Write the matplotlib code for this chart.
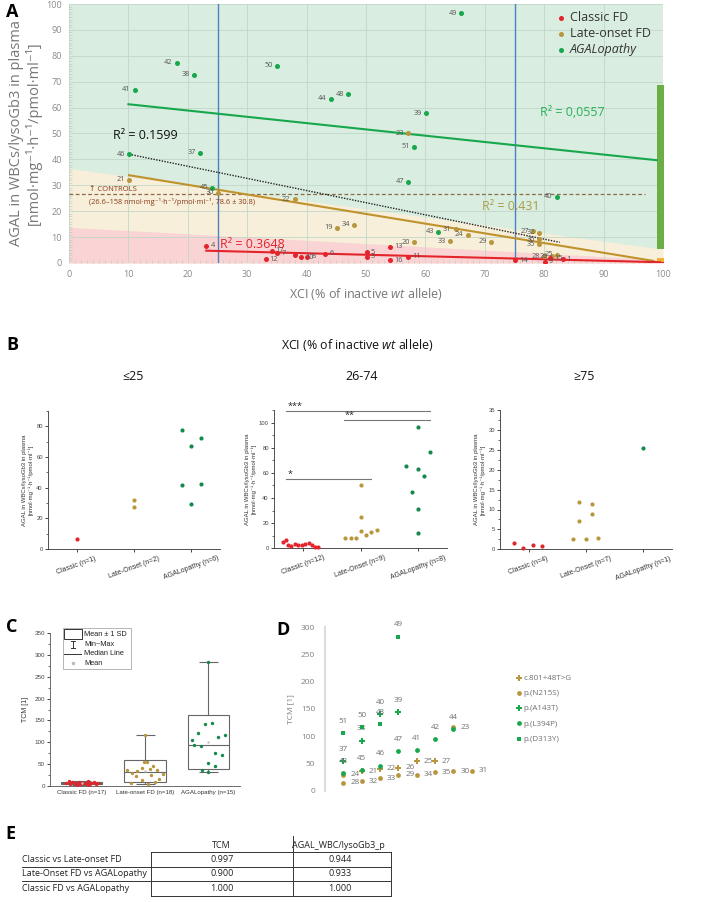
import numpy as np
import matplotlib
matplotlib.use('Agg')
import matplotlib.pyplot as plt
from matplotlib.lines import Line2D
from matplotlib.patches import Rectangle

plt.rcParams['font.family'] = ['Open Sans', 'DejaVu Sans']
plt.rcParams['mathtext.fontset'] = 'custom'
plt.rcParams['mathtext.rm'] = 'Open Sans'
plt.rcParams['mathtext.it'] = 'Open Sans:italic'
ARIAL = ['Liberation Sans', 'DejaVu Sans']

W, H = 709, 902

RED = '#e3242b'
GOLD = '#b8963e'
GREEN = '#17a74c'
DKGREEN = '#138a4b'
GRAY = '#6e6e6e'

# ---------------- A: AGAL ratio vs XCI ----------------
cl_xci = [23.1, 34.1, 33.1, 35.1, 38.1, 39.1, 40.1, 43.1, 50.1, 50.1, 54.0, 54.0, 57.1, 75.1, 80.1, 81.0, 83.1]
cl_agal = [6.7, 4.8, 1.4, 3.7, 3.0, 2.2, 2.4, 3.5, 4.2, 2.4, 6.3, 1.0, 2.4, 1.0, 0.5, 1.8, 1.5]
cl_id = ['4', '17', '12', '7', '', '10', '8', '6', '5', '3', '13', '16', '11', '14', '9', '15', '1']

lo_xci = [57.1, 10.1, 25.1, 38.0, 45.1, 48.0, 58.1, 65.1, 67.1, 64.1, 71.1, 78.1, 79.1, 79.1, 79.1, 80.0, 81.3, 82.1]
lo_agal = [50.1, 32.2, 27.2, 24.7, 13.6, 14.8, 8.0, 13.0, 10.9, 8.4, 8.2, 12.2, 11.7, 9.1, 7.2, 2.6, 2.7, 3.1]
lo_id = ['23', '21', '30', '22', '19', '34', '20', '31', '24', '33', '29', '27', '32', '36', '35', '28', '26', '25']

ag_xci = [66.0, 18.1, 21.0, 11.1, 35.0, 44.1, 47.0, 60.1, 58.1, 10.1, 22.1, 57.1, 62.1, 82.1, 24.1]
ag_agal = [96.4, 77.3, 72.6, 66.9, 76.2, 63.4, 65.1, 57.8, 44.9, 42.0, 42.6, 31.4, 12.1, 25.6, 29.1]
ag_id = ['49', '42', '38', '41', '50', '44', '48', '39', '51', '46', '37', '47', '43', '40', '45']

# trend lines as drawn in the source
fit_cl_x, fit_cl_y = [23.1, 99.5], [4.75, 0.3]
fit_lo_x, fit_lo_y = [10.1, 98.4], [33.9, 0.8]
fit_ag_x, fit_ag_y = [10.0, 98.9], [61.3, 39.7]
fit_all_x, fit_all_y = [10.1, 82.6], [42.0, 8.0]

band_x = [0, 100]
beige_top = [36.5, 5.3]
pink_top = [13.8, 1.2]
ctrl_level = 26.6
xci_cut = [25, 75]
side_bottom = [5.3, 0.5, 0.0]
side_top = [68.7, 1.8, 0.5]
side_col = ['#6aae45', '#f0b030', RED]

# ---------------- B: AGAL ratio by XCI group ----------------
cats = ['Classic', 'Late-Onset', 'AGALopathy']
b_groups = ['≤25', '26-74', '≥75']
b_vals = [
    [[6.7], [32.2, 27.2], [77.3, 72.6, 66.9, 42.0, 42.6, 29.1]],
    [[4.8, 6.3, 2.4, 2.2, 3.5, 2.4, 3.0, 3.7, 4.2, 2.4, 1.4, 1.0],
     [8.0, 8.4, 8.2, 13.6, 10.9, 13.0, 14.8, 50.1, 24.7],
     [96.4, 76.2, 65.1, 63.4, 57.8, 44.9, 31.4, 12.1]],
    [[1.5, 0.25, 1.2, 0.75], [12.0, 11.4, 8.8, 7.1, 2.6, 2.6, 2.9], [25.4]],
]
b_jit = [
    [[0], [0, 0], [-0.17, 0.16, 0, -0.17, 0.16, 0]],
    [[-0.35, -0.3, -0.25, -0.2, -0.14, -0.08, -0.02, 0.04, 0.1, 0.16, 0.21, 0.26],
     [-0.27, -0.17, -0.08, 0, 0.09, 0.19, 0.28, 0, 0],
     [0, 0.21, -0.21, 0, 0.1, -0.1, 0, 0]],
    [[-0.26, -0.1, 0.07, 0.23], [-0.12, 0.1, 0.1, -0.12, -0.23, 0, 0.21], [0]],
]
b_ymax = [90, 110, 35]
b_yticks = [np.arange(0, 81, 20), np.arange(0, 101, 20), np.arange(0, 36, 5)]
sig_x0 = [-0.29, 0.71, -0.29]
sig_x1 = [2.2, 2.2, 1.18]
sig_y = [109, 102, 55]
sig_txt = ['***', '**', '*']

# ---------------- C: TCM by phenotype ----------------
c_labels = ['Classic FD (n=17)', 'Late-onset FD (n=18)', 'AGALopathy (n=15)']
c_classic = [12, 11, 10, 9, 9, 8, 8, 7, 7, 6, 6, 5, 5, 4, 4, 3, 2]
c_classic_jit = [-0.2, 0.1, -0.05, 0.2, -0.15, 0.05, 0.25, -0.25, 0.0, 0.15, -0.1, 0.22, -0.18, 0.08, -0.02, 0.12, -0.08]
c_late = [116, 55, 54, 46, 42, 40, 37, 36, 34, 30, 28, 26, 22, 16, 14, 10, 8, 5]
c_late_jit = [0, -0.02, 0.03, 0.13, -0.04, 0.08, 0.19, -0.28, -0.12, -0.2, 0.29, 0.1, -0.15, 0.22, -0.05, 0.15, -0.22, 0.05]
c_agal = [283, 141, 143.5, 122, 112, 117, 105, 93, 90.5, 74.4, 72, 53.7, 45.4, 36.9, 31.6]
c_agal_jit = [0, -0.06, 0.05, -0.16, 0.16, 0.27, -0.26, -0.22, -0.11, 0.1, 0.21, 0, 0.1, -0.1, 0]

# ---------------- D: TCM by variant ----------------
d_names = ['c.801+48T>G', 'p.(N215S)', 'p.(A143T)', 'p.(L394P)', 'p.(D313Y)']
d_col = [GOLD, GOLD, GREEN, GREEN, GREEN]
d_mark = ['P', 'o', 'P', 'o', 's']
d_x = [[2, 3, 4, 5, 6],
       [1, 3, 4, 5, 6, 7, 8, 7, 1, 2],
       [1, 2, 3, 4],
       [1, 2, 3, 4, 5, 6, 7],
       [1, 2, 3, 4]]
d_y = [[35, 40, 42, 54.2, 54.2],
       [29, 22.4, 28.5, 28.5, 34, 35.8, 36.4, 116, 14, 17],
       [53.7, 91.6, 140.6, 143.8],
       [31.6, 37.7, 45.6, 72.6, 74.4, 94, 113],
       [106, 116.7, 122, 282.8]]
d_id = [['21', '22', '26', '25', '27'],
        ['24', '33', '29', '34', '35', '30', '31', '23', '28', '32'],
        ['37', '38', '40', '39'],
        ['43', '45', '46', '47', '41', '42', '44'],
        ['51', '50', '48', '49']]

# ---------------- E: table ----------------
e_rows = ['Classic vs Late-onset FD', 'Late-Onset FD vs AGALopathy', 'Classic FD vs AGALopathy']
e_cols = ['TCM', 'AGAL_WBC/lysoGb3_p']
e_tcm = ['0.997', '0.900', '1.000']
e_agal = ['0.944', '0.933', '1.000']


def box(l, t, r, b):
    return [l / W, 1 - b / H, (r - l) / W, (b - t) / H]


def fxy(px, py):
    return px / W, 1 - py / H


fig = plt.figure(figsize=(W / 100, H / 100), dpi=100)

# ======== panel A ========
axA = fig.add_axes(box(69, 4, 663, 263))
axA.set_facecolor('#d9eee0')
axA.fill_between(band_x, beige_top, 0, color='#f7efd9', lw=0, zorder=0.6)
axA.fill_between(band_x, pink_top, 0, color='#fad4d4', lw=0, zorder=0.7)
axA.set_xlim(0, 100)
axA.set_ylim(0, 100)
axA.set_xticks(np.arange(0, 101, 10))
axA.set_yticks(np.arange(0, 101, 10))
axA.set_xticks(np.arange(0, 101, 1), minor=True)
axA.set_yticks(np.arange(0, 101, 1), minor=True)
axA.grid(True, which='major', color='#c2d6c9', lw=0.6)
axA.set_axisbelow('line')
axA.tick_params(which='major', length=0, labelsize=6.5, labelcolor='#8a8a8a', pad=5)
axA.tick_params(which='minor', length=2, width=0.4, color='#b7c4bb', direction='in')
for s in axA.spines.values():
    s.set_visible(False)

for xv in xci_cut:
    axA.axvline(xv, color='#4f81bd', lw=1.0, zorder=2)
axA.plot([0, 97], [ctrl_level, ctrl_level], ls=(0, (3, 2)), color='#8b6a4a', lw=0.9, zorder=2)
axA.text(3.3, 28.3, '↑ CONTROLS', fontsize=5.5, color='#8b3a1a', va='center')
axA.text(3.3, 23.6, '(26.6–158 nmol·mg⁻¹·h⁻¹/pmol·ml⁻¹, 78.6 ± 30.8)', fontsize=5.3,
         color='#8b3a1a', va='center')

axA.bar([99.6] * 3, np.subtract(side_top, side_bottom), bottom=side_bottom, width=1.3,
        color=side_col, clip_on=False, zorder=3)

axA.plot(fit_ag_x, fit_ag_y, color=GREEN, lw=1.5, zorder=3)
axA.plot(fit_lo_x, fit_lo_y, color='#c0922c', lw=1.5, zorder=3)
axA.plot(fit_cl_x, fit_cl_y, color=RED, lw=1.5, zorder=3)
axA.plot(fit_all_x, fit_all_y, color='#222222', lw=1.0, ls=(0, (1, 1)), zorder=3)

axA.text(25.4, 7.3, 'R² = 0.3648', fontsize=9, color=RED, va='center')
axA.text(69.5, 22, 'R² = 0.431', fontsize=9, color='#a89c48', va='center')
axA.text(79.3, 58, 'R² = 0,0557', fontsize=9, color='#2ab05a', va='center')
axA.text(7.4, 49.4, 'R² = 0.1599', fontsize=9, color='#111111', va='center')

hA = []
for xs, ys, ids, col, name, side in [(ag_xci, ag_agal, ag_id, GREEN, 'AGALopathy', -1),
                                     (lo_xci, lo_agal, lo_id, GOLD, 'Late-onset FD', -1),
                                     (cl_xci, cl_agal, cl_id, RED, 'Classic FD', 1)]:
    h = axA.scatter(xs, ys, s=13, color=col, zorder=4, lw=0, label=name)
    hA.append(h)
    for x, y, t in zip(xs, ys, ids):
        axA.annotate(t, (x, y), xytext=(3 * side, 0), textcoords='offset points',
                     ha='left' if side > 0 else 'right', va='center',
                     fontsize=5.3, color='#555555', zorder=5)
legA = axA.legend(handles=hA[::-1], loc='upper left', bbox_to_anchor=((552 - 69) / 594, (263 - 6) / 259),
                  frameon=False, fontsize=9, handlelength=0.6, handletextpad=0.4,
                  labelspacing=0.25, borderaxespad=0)
for t in legA.get_texts():
    t.set_color('#333333')
legA.get_texts()[2].set_fontstyle('italic')

axA.set_xlabel('XCI (% of inactive $\\mathit{wt}$ allele)', fontsize=9, color='#777777', labelpad=5)
axA.set_ylabel('AGAL in WBCs/lysoGb3 in plasma\n[nmol·mg⁻¹·h⁻¹/pmol·ml⁻¹]', fontsize=10.5,
               color='#777777', labelpad=3, linespacing=1.05)

# ======== panel B ========
fig.text(*fxy(357, 345), 'XCI (% of inactive $\\mathit{wt}$ allele)', fontsize=8.9, ha='center',
         va='center', color='#111111')
b_boxes = [(48, 411, 220, 549), (274, 410, 447, 548.3), (500, 410, 672, 549.3)]
b_title_x = [133, 362, 584]
b_cols = [RED, GOLD, DKGREEN]
for gi in range(3):
    ax = fig.add_axes(box(*b_boxes[gi]))
    fig.text(*fxy(b_title_x[gi], 377), b_groups[gi], fontsize=8.9, ha='center', va='center',
             color='#111111')
    for ci in range(3):
        ax.scatter(np.add(ci, b_jit[gi][ci]), b_vals[gi][ci], s=9, color=b_cols[ci], lw=0,
                   zorder=3, clip_on=False)
    ax.set_xlim(-0.5, 2.5)
    ax.set_ylim(0, b_ymax[gi])
    ax.set_yticks(b_yticks[gi])
    step = b_yticks[gi][1] - b_yticks[gi][0]
    ax.set_yticks(np.arange(0, b_ymax[gi] + 0.01, step / 2), minor=True)
    ax.set_xticks(range(3))
    n = [len(v) for v in b_vals[gi]]
    ax.set_xticklabels(['%s (n=%d)' % (c, k) for c, k in zip(cats, n)], rotation=20,
                       ha='center', fontsize=5, family=ARIAL, color='#333333')
    for lab in ax.get_yticklabels():
        lab.set_family(ARIAL)
    ax.tick_params(axis='y', labelsize=4.2, labelcolor='#444444', length=2.2, width=0.5, pad=1.5)
    ax.tick_params(axis='y', which='minor', length=1.2, width=0.4)
    ax.tick_params(axis='x', length=2.2, width=0.5, pad=2)
    for s in ['top', 'right']:
        ax.spines[s].set_visible(False)
    for s in ['left', 'bottom']:
        ax.spines[s].set_linewidth(0.6)
        ax.spines[s].set_color('#333333')
    ax.set_ylabel('AGAL in WBCs/lysoGb3 in plasma\n[nmol·mg⁻¹·h⁻¹/pmol·ml⁻¹]', fontsize=4.3,
                  family=ARIAL + ['DejaVu Sans'], color='#333333', labelpad=2, linespacing=1.2)
    if gi == 1:
        for x0, x1, y, t in zip(sig_x0, sig_x1, sig_y, sig_txt):
            ax.plot([x0, x1], [y, y], color='#777777', lw=0.8, clip_on=False)
            ax.text(x0 + 0.02, y + 0.5, t, fontsize=6.5, va='bottom', ha='left', color='#222222')

fig.text(*fxy(12, 345), 'B', fontsize=13, fontweight='bold', ha='center', va='center')

# ======== panel C ========
axC = fig.add_axes(box(50, 633, 240, 786))
c_sets = [(c_classic, c_classic_jit, RED), (c_late, c_late_jit, GOLD), (c_agal, c_agal_jit, DKGREEN)]
for i, (vals, jit, col) in enumerate(c_sets):
    v = np.array(vals, dtype=float)
    m, sd, med = v.mean(), v.std(ddof=1), np.median(v)
    axC.vlines(i, v.min(), v.max(), color='#666666', lw=0.8, zorder=2)
    axC.hlines([v.min(), v.max()], i - 0.15, i + 0.15, color='#666666', lw=0.8, zorder=2)
    axC.add_patch(Rectangle((i - 0.325, m - sd), 0.65, 2 * sd, facecolor='white',
                            edgecolor='#666666', lw=0.8, zorder=2.5))
    axC.hlines(med, i - 0.325, i + 0.325, color='#666666', lw=0.8, zorder=3)
    axC.scatter(np.add(i, jit), v, s=6, color=col, lw=0, zorder=4)
    axC.scatter([i], [m], s=3, color='#c0c0c0', lw=0, zorder=4)
axC.set_xlim(-0.5, 2.5)
axC.set_ylim(0, 350)
axC.set_yticks(np.arange(0, 351, 50))
axC.set_yticks(np.arange(0, 351, 25), minor=True)
axC.set_xticks(range(3))
axC.set_xticklabels(c_labels, fontsize=4.4, family=ARIAL, color='#333333')
for lab in axC.get_yticklabels():
    lab.set_family(ARIAL)
axC.tick_params(axis='y', labelsize=4.5, labelcolor='#444444', length=2.2, width=0.5, pad=1.5)
axC.tick_params(axis='y', which='minor', length=1.2, width=0.4)
axC.tick_params(axis='x', length=0, pad=3)
for s in ['top', 'right']:
    axC.spines[s].set_visible(False)
for s in ['left', 'bottom']:
    axC.spines[s].set_linewidth(0.6)
    axC.spines[s].set_color('#555555')
axC.set_ylabel('TCM [1]', fontsize=5, family=ARIAL, color='#333333', labelpad=4)

# legend of panel C
fig.add_artist(Rectangle(fxy(62.7, 669), 68.6 / W, 41 / H, transform=fig.transFigure,
                         facecolor='white', edgecolor='#aaaaaa', lw=0.6))
fig.add_artist(Rectangle(fxy(64, 639), 17.7 / W, 10 / H, transform=fig.transFigure,
                         facecolor='white', edgecolor='#333333', lw=0.7))
for (xa, ya), (xb, yb) in [((72.7, 640.5), (72.7, 648)), ((70.5, 640.5), (75, 640.5)),
                           ((70.5, 648), (75, 648)), ((64, 653.7), (81, 653.7))]:
    fig.add_artist(Line2D([xa / W, xb / W], [1 - ya / H, 1 - yb / H], color='#333333', lw=0.7))
fig.add_artist(Line2D([72.7 / W], [1 - 663.3 / H], marker='o', ms=1.5, color='#bbbbbb', lw=0))
for y, t in zip([634, 644, 653.7, 663.3], ['Mean ± 1 SD', 'Min~Max', 'Median Line', 'Mean']):
    fig.text(*fxy(84, y), t, fontsize=5.3, family=ARIAL, va='center', color='#222222')
fig.text(*fxy(12, 627), 'C', fontsize=13, fontweight='bold', ha='center', va='center')

# ======== panel D ========
axD = fig.add_axes(box(325, 627.3, 508.5, 790.5))
hD = []
for k in range(5):
    above = d_col[k] == GREEN
    ms = 12 if d_mark[k] != 'P' else 16
    h = axD.scatter(d_x[k], d_y[k], s=ms, marker=d_mark[k], color=d_col[k], lw=0, zorder=3 if above else 2,
                    label=d_names[k], clip_on=False)
    hD.append(h)
    for x, y, t in zip(d_x[k], d_y[k], d_id[k]):
        if above:
            axD.annotate(t, (x, y), xytext=(0, 6), textcoords='offset points', ha='center',
                         va='bottom', fontsize=5.8, color='#707070')
        else:
            axD.annotate(t, (x, y), xytext=(5, 0), textcoords='offset points', ha='left',
                         va='center', fontsize=5.8, color='#707070')
axD.set_xlim(0, 10)
axD.set_ylim(0, 300)
axD.set_yticks(np.arange(0, 301, 50))
axD.set_xticks([])
axD.tick_params(axis='y', length=0, labelsize=6, labelcolor='#808080', pad=7)
for s in ['top', 'right', 'bottom']:
    axD.spines[s].set_visible(False)
axD.spines['left'].set_color('#dcdcdc')
axD.spines['left'].set_linewidth(1.5)
axD.set_ylabel('TCM [1]', fontsize=6, color='#808080', labelpad=5)
legD = axD.legend(handles=hD, loc='upper left', bbox_to_anchor=fxy(517, 674), bbox_transform=fig.transFigure,
                  frameon=False, fontsize=5.8, handlelength=0.5, handletextpad=0.3,
                  labelspacing=0.95, borderaxespad=0, borderpad=0)
for t in legD.get_texts():
    t.set_color('#707070')
fig.text(*fxy(283, 630), 'D', fontsize=13, fontweight='bold', ha='center', va='center')

# ======== panel E ========
fig.text(*fxy(10, 834), 'E', fontsize=13, fontweight='bold', ha='center', va='center')
row_y = [859.3, 874, 888.7]
for y, lab, a, b in zip(row_y, e_rows, e_tcm, e_agal):
    fig.text(*fxy(22, y), lab, fontsize=6.5, va='center', ha='left', color='#222222')
    fig.text(*fxy(221.7, y), a, fontsize=6.5, va='center', ha='center', color='#222222')
    fig.text(*fxy(340, y), b, fontsize=6.5, va='center', ha='center', color='#222222')
fig.text(*fxy(221.7, 846), e_cols[0], fontsize=6.5, va='center', ha='center', color='#222222')
fig.text(*fxy(338, 846), e_cols[1], fontsize=6.5, va='center', ha='center', color='#222222')
for (xa, ya), (xb, yb) in [((150.7, 851.7), (391, 851.7)), ((150.7, 895.7), (391, 895.7)),
                           ((150.7, 851.7), (150.7, 895.7)), ((391, 851.7), (391, 895.7)),
                           ((292.7, 836), (292.7, 895.7)), ((22, 866.7), (391, 866.7)),
                           ((22, 881), (391, 881))]:
    fig.add_artist(Line2D([xa / W, xb / W], [1 - ya / H, 1 - yb / H], color='#333333', lw=0.7))

fig.text(*fxy(12, 12), 'A', fontsize=13, fontweight='bold', ha='center', va='center')

fig.savefig('out.png', dpi=100)
